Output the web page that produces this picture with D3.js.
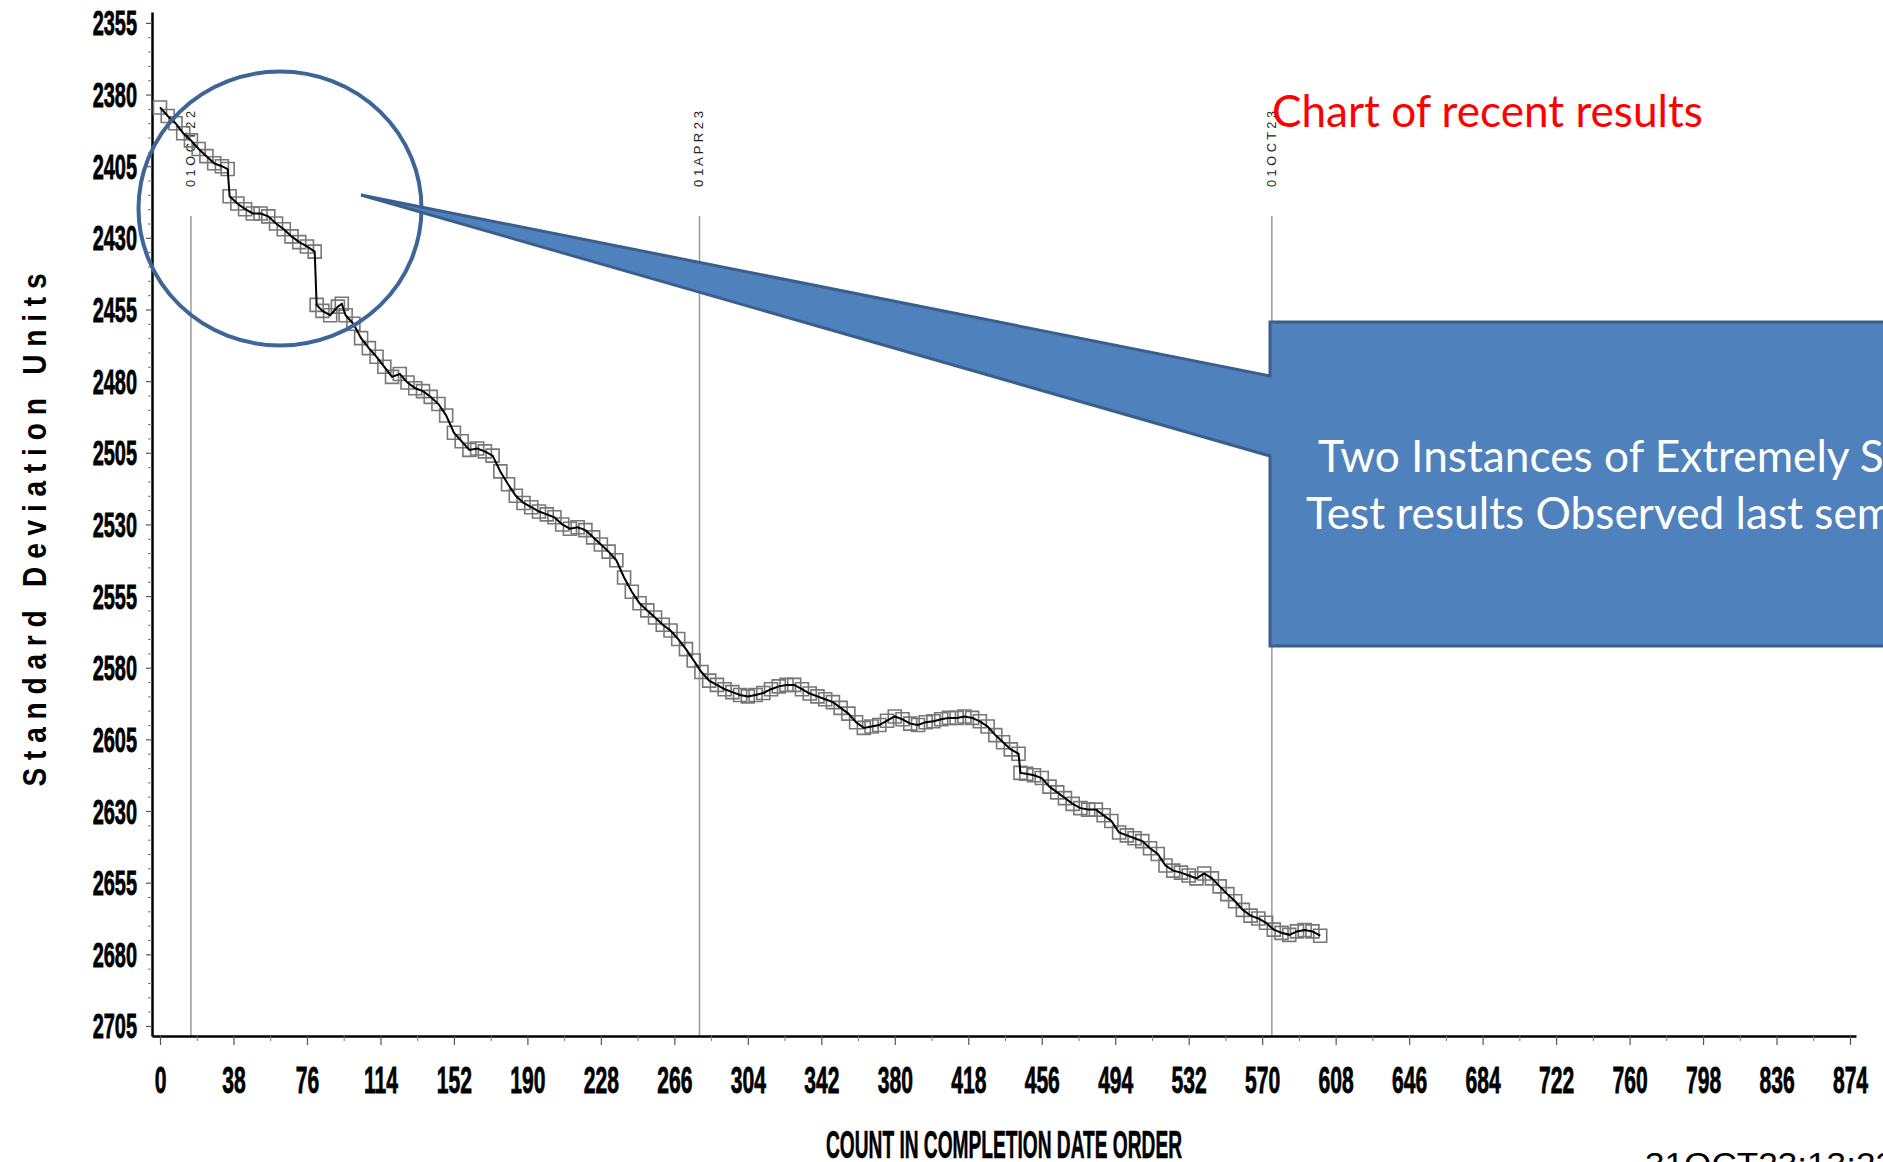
<!DOCTYPE html>
<html><head><meta charset="utf-8">
<script src="https://cdn.jsdelivr.net/npm/d3@7"></script>
<style>html,body{margin:0;padding:0;background:#fff;overflow:hidden}</style>
</head><body>
<svg id="chart" width="1883" height="1162" xmlns="http://www.w3.org/2000/svg"></svg>
<script>
// ---------------- data ----------------
const counts = [0,4,8,12,16,20,24,28,32,35,36,40,44,48,52,56,60,64,68,72,76,80,81,84,88,92,94,96,100,104,108,112,116,120,124,128,132,136,140,144,148,152,156,160,164,168,172,176,180,184,188,192,196,200,204,208,212,216,220,224,228,232,236,240,244,248,252,256,260,264,268,272,276,280,284,288,292,296,300,304,308,312,316,320,324,328,332,336,340,344,348,352,356,360,364,368,372,376,380,384,388,392,396,400,404,408,412,416,420,424,428,432,436,440,444,445,448,452,456,460,464,468,472,476,480,484,488,492,496,500,504,508,512,516,520,524,528,532,536,540,544,548,552,556,560,564,568,572,576,580,584,588,592,596,600];
const values = [2384.5,2387.5,2390,2393.5,2396,2399,2401.5,2404,2405,2406,2415.5,2418,2420,2421.5,2421.5,2422.5,2425,2427,2429.5,2431.5,2433,2434.8,2453.4,2455.5,2457,2454,2453,2457,2460,2465,2468.5,2471.5,2475,2478.5,2477.5,2480.5,2482.5,2483.5,2485.5,2488,2492,2498,2501,2504,2503.5,2504.5,2506,2511.5,2516,2520,2522.5,2524,2525.5,2526.5,2527.5,2530,2531.5,2531,2532,2534.5,2537,2539.5,2542.5,2548.5,2553.5,2557.5,2560,2562.5,2565,2567,2570,2573.5,2577.5,2581.5,2584.5,2586,2587.5,2588.5,2589.5,2590,2589.5,2588.8,2587.5,2586.5,2586,2586,2587.5,2589,2590,2591,2592,2594,2596,2599,2601,2600.5,2600,2598.5,2597,2598,2599.5,2600,2599,2598.7,2598,2597.5,2597.5,2597,2597.5,2598.7,2600.5,2603.5,2606,2608.5,2610,2616.7,2617,2617.5,2618.5,2621.5,2623.5,2625.5,2627.5,2629,2629.5,2629.5,2631.5,2633.5,2637.5,2638.5,2639.5,2640.5,2643,2645,2649,2650.8,2651.5,2652.5,2653.5,2651.8,2653.5,2656.3,2659,2661.5,2664.5,2666.5,2667.5,2669,2671.4,2672.5,2673.2,2672,2671.5,2672,2673.5];
const xTickValues = [0,38,76,114,152,190,228,266,304,342,380,418,456,494,532,570,608,646,684,722,760,798,836,874];
const xMinorTicks = [19,57,95,133,171,209,247,285,323,361,399,437,475,513,551,589,627,665,703,741,779,817,855];
const yTickValues = [2355,2380,2405,2430,2455,2480,2505,2530,2555,2580,2605,2630,2655,2680,2705];
const refLineCounts = [16, 279, 575];
const refLineLabels = ["0 1 O C T 2 2","0 1 A P R 2 3","0 1 O C T 2 3"];
const chartTitle = "Chart of recent results";
const calloutLines = ["Two Instances of Extremely Slow","Test results Observed last semester"];
const xAxisTitle = "COUNT IN COMPLETION DATE ORDER";
const yAxisTitle = "S t a n d a r d   D e v i a t i o n   U n i t s";
const timestamp = "31OCT23:13:23";

// ---------------- chart ----------------
const svg = d3.select("#chart");
const x = d3.scaleLinear().domain([-4.14, 877.1]).range([152, 1856]);
const y = d3.scaleLinear().domain([2351.2, 2708.5]).range([12, 1036]);
const yMinor = d3.range(2355, 2706, 5).filter(v => (v - 2355) % 25 !== 0);
const sasFont = "'Liberation Sans', Arial, sans-serif";
const labelSX = 0.57;

// reference lines
const refG = svg.append("g");
refLineCounts.forEach((c, i) => {
  refG.append("line").attr("x1", x(c)).attr("x2", x(c)).attr("y1", 216).attr("y2", 1036)
    .attr("stroke", "#9a9a9a").attr("stroke-width", 1.5);
  refG.append("text")
    .attr("transform", `translate(${x(c) + 4},187) rotate(-90)`)
    .attr("font-family", sasFont).attr("font-size", 13).attr("fill", "#222")
    .attr("style", "white-space:pre")
    .attr("textLength", 76).attr("lengthAdjust", "spacingAndGlyphs")
    .text(refLineLabels[i]);
});

// axes
const xAxisG = svg.append("g").attr("transform", "translate(0,1036)")
  .call(d3.axisBottom(x).tickValues(xTickValues).tickSize(9).tickSizeOuter(0).tickFormat(d3.format("d")));
xAxisG.select(".domain").attr("stroke", "#000").attr("stroke-width", 2.5);
xAxisG.selectAll(".tick line").attr("stroke", "#555").attr("stroke-width", 1.2);
xAxisG.selectAll(".tick text")
  .attr("font-family", sasFont).attr("font-weight", "bold").attr("font-size", 37).attr("fill", "#000")
  .attr("stroke", "#000").attr("stroke-width", 0.8)
  .attr("y", 0).attr("dy", 0).attr("transform", `translate(0,57) scale(${labelSX},1)`);
svg.append("g").attr("transform", "translate(0,1036)")
  .call(d3.axisBottom(x).tickValues(xMinorTicks).tickSize(5).tickFormat(""))
  .call(g => g.select(".domain").remove())
  .selectAll(".tick line").attr("stroke", "#777").attr("stroke-width", 1);

const yAxisG = svg.append("g").attr("transform", "translate(152,0)")
  .call(d3.axisLeft(y).tickValues(yTickValues).tickSize(6).tickSizeOuter(0).tickFormat(d3.format("d")));
yAxisG.select(".domain").attr("stroke", "#000").attr("stroke-width", 2.5);
yAxisG.selectAll(".tick line").attr("stroke", "#555").attr("stroke-width", 1.2);
yAxisG.selectAll(".tick text")
  .attr("font-family", sasFont).attr("font-weight", "bold").attr("font-size", 35).attr("fill", "#000")
  .attr("stroke", "#000").attr("stroke-width", 0.8)
  .attr("x", 0).attr("dy", 0).attr("y", 0)
  .attr("transform", `translate(-15,12) scale(${labelSX},1)`);
svg.append("g").attr("transform", "translate(152,0)")
  .call(d3.axisLeft(y).tickValues(yMinor).tickSize(4).tickFormat(""))
  .call(g => g.select(".domain").remove())
  .selectAll(".tick line").attr("stroke", "#777").attr("stroke-width", 1);

// axis titles
svg.append("text")
  .attr("x", 0).attr("y", 0)
  .attr("transform", "translate(1004,1158)")
  .attr("text-anchor", "middle")
  .attr("font-family", sasFont).attr("font-weight", "bold").attr("font-size", 39)
  .attr("stroke", "#000").attr("stroke-width", 0.6)
  .attr("textLength", 356).attr("lengthAdjust", "spacingAndGlyphs")
  .text(xAxisTitle);
svg.append("text")
  .attr("transform", "translate(46,530) rotate(-90)")
  .attr("text-anchor", "middle")
  .attr("style", "white-space:pre")
  .attr("font-family", sasFont).attr("font-weight", "bold").attr("font-size", 33).attr("fill", "#000")
  .attr("textLength", 513).attr("lengthAdjust", "spacingAndGlyphs")
  .text(yAxisTitle);
svg.append("text")
  .attr("x", 1645).attr("y", 1176)
  .attr("font-family", sasFont).attr("font-size", 34).attr("fill", "#000")
  .attr("textLength", 250).attr("lengthAdjust", "spacingAndGlyphs")
  .text(timestamp);

// data series
const pts = counts.map((c, i) => ({c, v: values[i]}));
svg.append("g").selectAll("path").data(pts).join("path")
  .attr("transform", d => `translate(${x(d.c)},${y(d.v)})`)
  .attr("d", d3.symbol(d3.symbolSquare, 169))
  .attr("fill", "none").attr("stroke", "#777").attr("stroke-width", 1.6);
svg.append("path").datum(pts)
  .attr("d", d3.line().x(d => x(d.c)).y(d => y(d.v)))
  .attr("fill", "none").attr("stroke", "#000").attr("stroke-width", 2);

// annotation circle
svg.append("ellipse").attr("cx", 280).attr("cy", 208.5).attr("rx", 141.5).attr("ry", 137)
  .attr("fill", "none").attr("stroke", "#3D6597").attr("stroke-width", 4);

// callout box with pointer
svg.append("path")
  .attr("d", "M1270,322 L1900,322 L1900,646 L1270,646 L1270,456 L361,195 L1270,376 Z")
  .attr("fill", "#4F81BD").attr("stroke", "#3A5F8E").attr("stroke-width", 3).attr("stroke-linejoin", "miter");

const humanist = "Lato, 'Open Sans', 'Noto Sans', sans-serif";
function fitFont(prefix, targetWidth, base) {
  const tmp = svg.append("text").attr("font-family", humanist).attr("font-size", base)
    .attr("style", "white-space:pre").text(prefix);
  const w = tmp.node().getComputedTextLength();
  tmp.remove();
  return base * targetWidth / w;
}
const fsCall = fitFont("Two Instances of Extremely ", 542, 42);
const callG = svg.append("g").attr("font-family", humanist).attr("fill", "#fff").attr("font-size", fsCall);
callG.append("text").attr("x", 1318).attr("y", 472).text(calloutLines[0]);
callG.append("text").attr("x", 1306).attr("y", 529).text(calloutLines[1]);

const fsTitle = fitFont(chartTitle, 431, 44);
svg.append("text").attr("x", 1272).attr("y", 127)
  .attr("font-family", humanist).attr("font-size", fsTitle).attr("fill", "#FF0000")
  .text(chartTitle);
</script>
</body></html>
